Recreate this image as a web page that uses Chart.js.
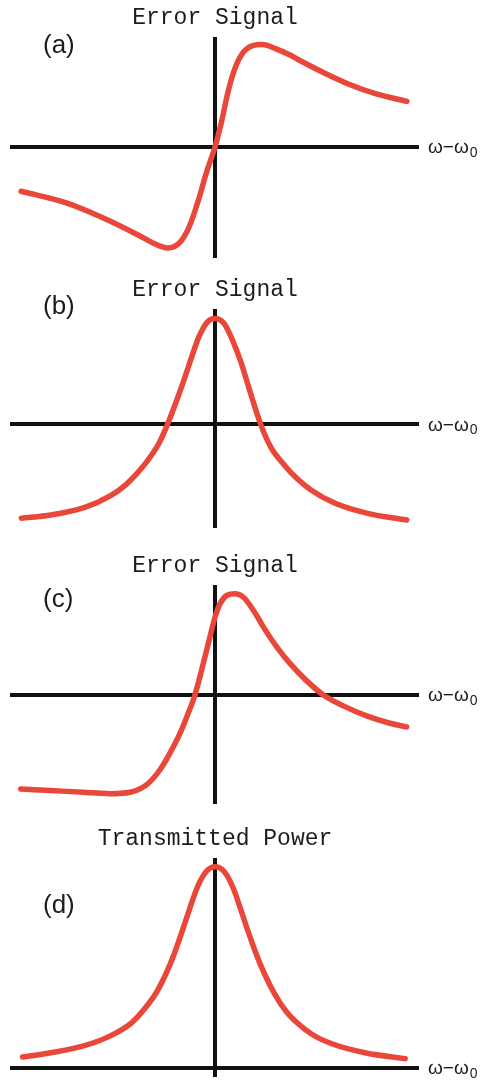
<!DOCTYPE html>
<html>
<head>
<meta charset="utf-8">
<title>Error signal and transmitted power</title>
<script src="https://cdn.jsdelivr.net/npm/chart.js@4"></script>
<style>
  html, body { margin: 0; padding: 0; background: #fff; overflow: hidden; }
  #page { position: relative; width: 482px; height: 1083px; }
  #page canvas { position: absolute; left: 0; }
</style>
</head>
<body>
<div id="page"></div>
<script>
// detuning (arbitrary units) and signal for each panel
const xA = [-9.55, -7.33, -5.69, -3.72, -3.06, -2.33, -1.75, -1.26, -0.76, -0.43, 0, 0.31, 0.63, 0.96, 1.37, 1.86, 2.35, 3.01, 3.67, 4.16, 5.31, 6.63, 7.94, 9.45];
const yA = [-4.07, -5.14, -6.37, -8.15, -8.81, -9.27, -8.81, -7.28, -4.53, -2.39, 0, 2.20, 4.95, 7.09, 8.62, 9.29, 9.39, 9.00, 8.45, 7.95, 6.85, 5.72, 4.86, 4.18];

const xB = [-9.54, -8.09, -6.45, -5.14, -4.40, -3.82, -3.33, -2.76, -2.34, -1.94, -1.53, -1.20, -0.79, -0.37, 0, 0.44, 0.86, 1.27, 1.67, 2.25, 2.74, 3.40, 4.05, 4.71, 5.86, 7.51, 9.44];
const yB = [-8.62, -8.32, -7.65, -6.55, -5.55, -4.45, -3.35, -1.74, 0, 1.93, 4.06, 5.90, 8.04, 9.41, 9.72, 9.27, 7.73, 5.75, 3.35, 0, -2.06, -3.70, -5.00, -6.00, -7.20, -8.17, -8.78];

const xC = [-9.57, -8.13, -6.49, -5.17, -4.19, -3.36, -2.71, -2.22, -1.72, -1.32, -0.99, -0.66, -0.33, 0, 0.25, 0.58, 0.99, 1.39, 1.89, 2.38, 3.04, 3.69, 4.52, 5.34, 6.32, 7.47, 8.62, 9.44];
const yC = [-8.65, -8.78, -8.96, -9.08, -8.95, -8.25, -6.88, -5.35, -3.51, -1.68, 0, 2.29, 4.74, 7.16, 8.41, 9.17, 9.33, 9.02, 7.80, 6.27, 4.43, 2.91, 1.30, 0, -1.00, -1.92, -2.60, -2.93];

const xD = [-9.48, -8.16, -6.52, -5.21, -4.14, -3.57, -2.91, -2.41, -2.00, -1.60, -1.27, -0.86, -0.44, 0, 0.46, 0.87, 1.28, 1.61, 2.02, 2.43, 2.92, 3.50, 4.07, 4.81, 5.79, 7.44, 9.37];
const yD = [1.01, 1.38, 2.00, 2.90, 4.10, 5.20, 6.85, 8.66, 10.50, 12.63, 14.47, 16.61, 17.98, 18.44, 17.98, 16.61, 14.47, 12.63, 10.50, 8.66, 6.85, 5.20, 4.10, 3.05, 2.20, 1.38, 0.86];

const panelLetters = ["(a)", "(b)", "(c)", "(d)"];
const panelTitles = ["Error Signal", "Error Signal", "Error Signal", "Transmitted Power"];
const axisLabel = "\u03c9\u2212\u03c9";
const axisLabelSub = "0";

// y limits per panel
const yMin = [-10.1, -9.42, -9.94, -0.73];
const yMax = [9.9, 10.4, 9.94, 19.06];

// page layout: top/bottom of each plot area, and where the letter sits
const panels = [
  { xs: xA, ys: yA, top: 39, bottom: 257, letterY: 46 },
  { xs: xB, ys: yB, top: 311, bottom: 527, letterY: 307 },
  { xs: xC, ys: yC, top: 587, bottom: 803, letterY: 600 },
  { xs: xD, ys: yD, top: 860, bottom: 1076, letterY: 906 }
];

const PAD_TOP = 39, PAD_BOTTOM = 13, PAD_LEFT = 12, PAD_RIGHT = 64;

// titles, panel letter and the detuning label on the horizontal axis
const labelsPlugin = {
  id: "panelLabels",
  afterDraw(chart, args, opts) {
    const ctx = chart.ctx;
    const area = chart.chartArea;
    const x0 = chart.scales.x.getPixelForValue(0);
    const y0 = chart.scales.y.getPixelForValue(0);
    ctx.save();
    ctx.fillStyle = "#1c1c1c";

    ctx.font = '23px "Courier New", "Liberation Mono", monospace';
    ctx.textAlign = "center";
    ctx.textBaseline = "middle";
    ctx.fillText(opts.title, x0, area.top - 21);

    ctx.font = '26px "Liberation Sans", Arial, sans-serif';
    ctx.textAlign = "left";
    ctx.fillText(opts.letter, 43, opts.letterY);

    ctx.font = '19px "Liberation Sans", Arial, sans-serif';
    const lx = area.right + 10;
    ctx.fillText(axisLabel, lx, y0 + 1);
    const w = ctx.measureText(axisLabel).width;
    ctx.font = '14px "Liberation Sans", Arial, sans-serif';
    ctx.fillText(axisLabelSub, lx + w + 1, y0 + 6);
    ctx.restore();
  }
};

const page = document.getElementById("page");

panels.forEach((p, i) => {
  const canvas = document.createElement("canvas");
  const h = p.bottom - p.top + PAD_TOP + PAD_BOTTOM;
  canvas.width = 482;
  canvas.height = h;
  canvas.style.top = (p.top - PAD_TOP) + "px";
  canvas.style.width = "482px";
  canvas.style.height = h + "px";
  page.appendChild(canvas);

  new Chart(canvas.getContext("2d"), {
    type: "line",
    data: {
      datasets: [{
        data: p.xs.map((x, k) => ({ x: x, y: p.ys[k] })),
        borderColor: "#e8473a",
        borderWidth: 5.5,
        borderCapStyle: "round",
        borderJoinStyle: "round",
        pointRadius: 0,
        fill: false,
        cubicInterpolationMode: "monotone"
      }]
    },
    options: {
      responsive: false,
      animation: false,
      events: [],
      layout: { padding: { top: PAD_TOP, bottom: PAD_BOTTOM, left: PAD_LEFT, right: PAD_RIGHT } },
      scales: {
        x: {
          type: "linear",
          min: -10,
          max: 10,
          position: { y: 0 },
          grid: { display: false, drawTicks: false, tickLength: 0 },
          ticks: { display: false },
          border: { display: true, color: "#111", width: 4 }
        },
        y: {
          type: "linear",
          min: yMin[i],
          max: yMax[i],
          position: { x: 0 },
          grid: { display: false, drawTicks: false, tickLength: 0 },
          ticks: { display: false },
          border: { display: true, color: "#111", width: 4 }
        }
      },
      plugins: {
        legend: { display: false },
        tooltip: { enabled: false },
        panelLabels: { title: panelTitles[i], letter: panelLetters[i], letterY: p.letterY - (p.top - PAD_TOP) }
      }
    },
    plugins: [labelsPlugin]
  });
});
</script>
</body>
</html>
